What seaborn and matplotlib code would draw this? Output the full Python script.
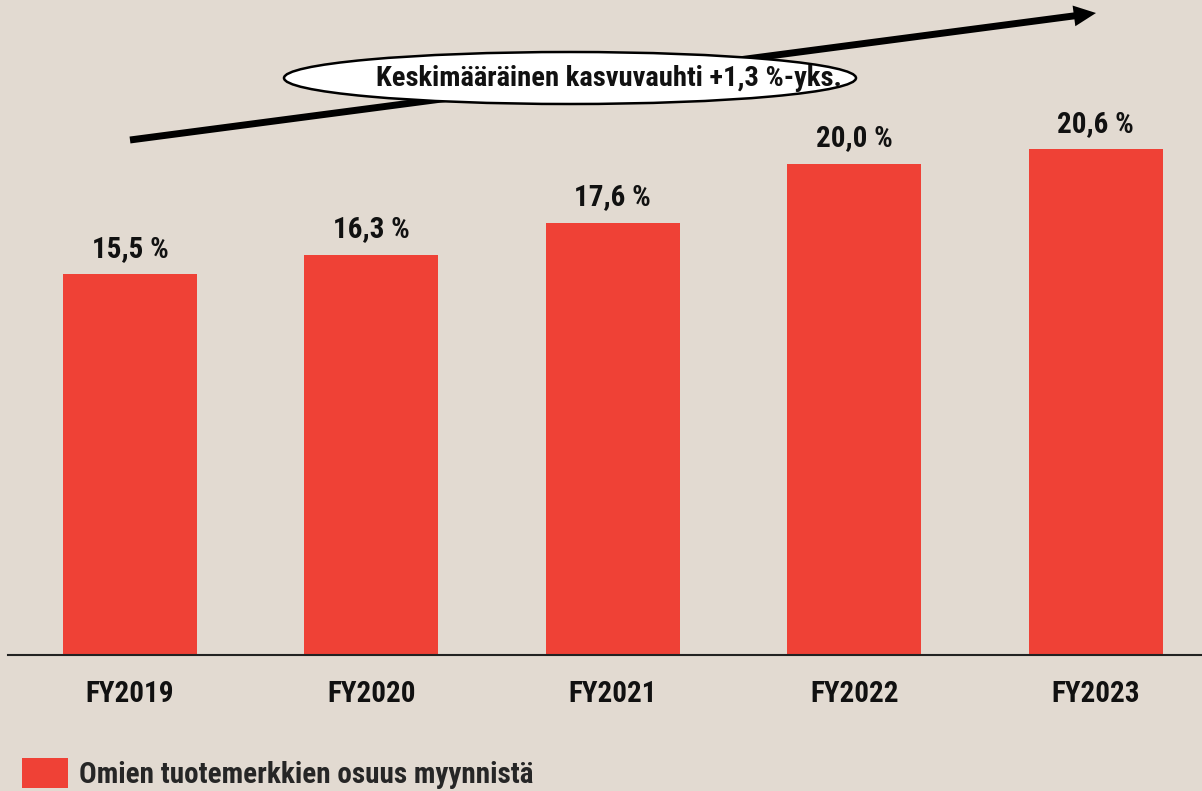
import pandas as pd
import seaborn as sns
import matplotlib.pyplot as plt
from matplotlib.patches import Ellipse, Patch

# Data
years = ["FY2019", "FY2020", "FY2021", "FY2022", "FY2023"]
shares = [15.5, 16.3, 17.6, 20.0, 20.6]
labels = ["15,5 %", "16,3 %", "17,6 %", "20,0 %", "20,6 %"]
series_name = "Omien tuotemerkkien osuus myynnistä"
note = "Keskimääräinen kasvuvauhti +1,3 %-yks."

bg = "#E2DAD1"
red = "#EF4136"
weight = "bold"

sns.set_theme(style="white")
plt.rcParams['font.family'] = ['Roboto Condensed', 'Archivo Narrow',
                               'Liberation Sans Narrow', 'DejaVu Sans']

df = pd.DataFrame({"Year": years, "Share": shares})

fig = plt.figure(figsize=(12.02, 7.91), dpi=100, facecolor=bg)
ax = fig.add_axes([8 / 1202, 136 / 791, 1 - 8 / 1202, 1 - 136 / 791])
ax.set_facecolor(bg)

sns.barplot(data=df, x="Year", y="Share", color=red, width=0.555,
            saturation=1, linewidth=0, ax=ax)

ax.set_xlim(-0.505, 4.44)
ax.set_ylim(0, 26.66)

for i, (v, lab) in enumerate(zip(shares, labels)):
    ax.text(i, v + 0.45, lab, ha="center", va="bottom", fontsize=21,
            fontweight=weight, color="#111111")

for s in ["top", "right", "left"]:
    ax.spines[s].set_visible(False)
ax.spines["bottom"].set_color("#222222")
ax.spines["bottom"].set_linewidth(1.5)
ax.set_yticks([])
ax.set_xlabel("")
ax.set_ylabel("")
ax.tick_params(axis="x", length=0, pad=18, labelsize=21, colors="#111111")
for t in ax.get_xticklabels():
    t.set_fontweight(weight)

# Trend arrow and ellipse note
W, H = 1202, 791
ax.annotate("", xy=(1096 / W, 1 - 13 / H), xytext=(130 / W, 1 - 140 / H),
            xycoords="figure fraction", textcoords="figure fraction",
            arrowprops=dict(width=5, headwidth=15, headlength=16,
                            facecolor="black", edgecolor="black", lw=0,
                            shrink=0))
ell = Ellipse((570 / W, 1 - 78 / H), 572 / W, 52 / H, transform=fig.transFigure,
              facecolor="white", edgecolor="black", lw=1.8, zorder=5)
fig.patches.append(ell)
fig.text(609 / W, 1 - 79 / H, note, ha="center", va="center", fontsize=20.5,
         fontweight=weight, color="#111111", zorder=6)

# Legend
fig.legend(handles=[Patch(facecolor=red, edgecolor="none", label=series_name)],
           loc="lower left", bbox_to_anchor=(22 / W, 2 / H), frameon=False,
           prop={"weight": weight, "size": 21},
           borderpad=0, borderaxespad=0,
           handlelength=1.58, handleheight=1.2, handletextpad=0.38)

fig.savefig("out.png", dpi=100, facecolor=bg)
